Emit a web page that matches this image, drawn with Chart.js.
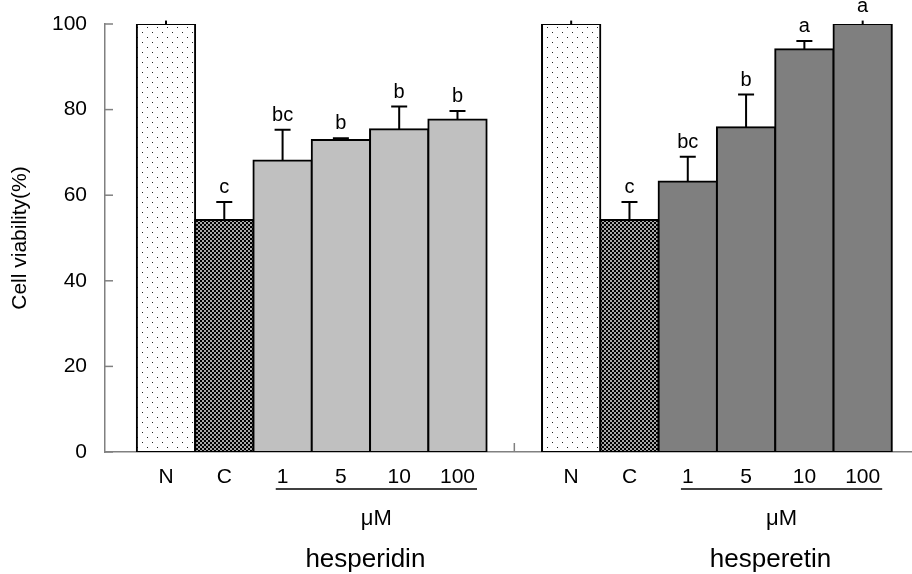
<!DOCTYPE html>
<html>
<head>
<meta charset="utf-8">
<script src="https://cdn.jsdelivr.net/npm/chart.js@4.4.0/dist/chart.umd.min.js"></script>
<style>
  html, body { margin: 0; padding: 0; background: #fff; }
  #wrap { width: 912px; height: 574px; }
</style>
</head>
<body>
<div id="wrap"><canvas id="myChart"></canvas></div>
<script>
// 데이터
const doseLabels = ['N', 'C', '1', '5', '10', '100'];
const groupNames = ['hesperidin', 'hesperetin'];
const unitLabel = 'μM';
const yTicks = [0, 20, 40, 60, 80, 100];

const hesperidinMean = [100, 54.2, 68.1, 72.9, 75.4, 77.7];
const hesperidinErr = [0.8, 4.2, 7.2, 0.4, 5.3, 2.0];
const hesperidinLetters = ['', 'c', 'bc', 'b', 'b', 'b'];

const hesperetinMean = [100, 54.2, 63.2, 75.9, 94.1, 100];
const hesperetinErr = [0.8, 4.2, 5.8, 7.6, 1.9, 0.8];
const hesperetinLetters = ['', 'c', 'bc', 'b', 'a', 'a'];

const GROUP_STRIDE = 6.95;   // 두 그룹 사이 간격 (막대 단위)
const FONT = "'Liberation Sans', Arial, sans-serif";

// 패턴 만들기
function makePattern(size, drawFn) {
    const c = document.createElement('canvas');
    c.width = size; c.height = size;
    const g = c.getContext('2d');
    drawFn(g);
    return g.createPattern(c, 'repeat');
}

const dotPattern = makePattern(10, g => {
    g.fillStyle = '#fff';
    g.fillRect(0, 0, 10, 10);
    g.fillStyle = '#222';
    g.fillRect(2, 2, 1, 1);
    g.fillRect(7, 7, 1, 1);
});

const checkPattern = makePattern(4, g => {
    g.fillStyle = '#a8a8a8';
    g.fillRect(0, 0, 4, 4);
    g.fillStyle = '#000';
    g.fillRect(0, 0, 2, 2);
    g.fillRect(2, 2, 2, 2);
});

const groups = [
    { mean: hesperidinMean, err: hesperidinErr, letters: hesperidinLetters, fill: '#c0c0c0' },
    { mean: hesperetinMean, err: hesperetinErr, letters: hesperetinLetters, fill: '#7f7f7f' }
];

const points = [];
const fills = [];
const errs = [];
const letters = [];
groups.forEach((g, gi) => {
    g.mean.forEach((v, i) => {
        points.push({ x: gi * GROUP_STRIDE + i, y: v });
        fills.push(i === 0 ? dotPattern : (i === 1 ? checkPattern : g.fill));
        errs.push(g.err[i]);
        letters.push(g.letters[i]);
    });
});

// 에러바, 문자, 축 표시 등
const annotations = {
    id: 'annotations',
    afterDatasetsDraw(chart) {
        const { ctx, chartArea, scales: { x, y } } = chart;
        ctx.save();

        // y축 안쪽 눈금
        ctx.strokeStyle = '#808080';
        ctx.lineWidth = 1.5;
        yTicks.forEach(t => {
            const py = y.getPixelForValue(t);
            ctx.beginPath();
            ctx.moveTo(chartArea.left, py);
            ctx.lineTo(chartArea.left + 8, py);
            ctx.stroke();
        });
        // 그룹 사이 눈금
        const gapX = x.getPixelForValue((doseLabels.length - 1 + GROUP_STRIDE) / 2);
        ctx.beginPath();
        ctx.moveTo(gapX, chartArea.bottom);
        ctx.lineTo(gapX, chartArea.bottom - 9);
        ctx.stroke();

        // 에러바 + 유의성 문자
        ctx.strokeStyle = '#000';
        ctx.fillStyle = '#000';
        ctx.lineWidth = 2;
        ctx.font = '20px ' + FONT;
        ctx.textAlign = 'center';
        ctx.textBaseline = 'alphabetic';
        points.forEach((p, i) => {
            const px = x.getPixelForValue(p.x);
            const top = p.y + errs[i];
            const y0 = y.getPixelForValue(p.y);
            const y1 = y.getPixelForValue(top);
            ctx.beginPath();
            ctx.moveTo(px, y0);
            ctx.lineTo(px, y1);
            if (top <= y.max) {
                ctx.moveTo(px - 8, y1);
                ctx.lineTo(px + 8, y1);
            }
            ctx.stroke();
            if (letters[i]) {
                ctx.fillText(letters[i], px, y1 - 9);
            }
        });

        // 농도 밑줄, 단위, 그룹 이름
        groupNames.forEach((name, gi) => {
            ctx.font = '21px ' + FONT;
            const first = doseLabels[2];
            const last = doseLabels[doseLabels.length - 1];
            const left = x.getPixelForValue(gi * GROUP_STRIDE + 2) - ctx.measureText(first).width / 2 - 1;
            const right = x.getPixelForValue(gi * GROUP_STRIDE + doseLabels.length - 1) + ctx.measureText(last).width / 2 + 2;
            ctx.lineWidth = 1.5;
            ctx.beginPath();
            ctx.moveTo(left, 489);
            ctx.lineTo(right, 489);
            ctx.stroke();

            const mid = (left + right) / 2;
            ctx.font = '22px ' + FONT;
            ctx.fillText(unitLabel, mid, 525);
            ctx.font = '26px ' + FONT;
            ctx.fillText(name, mid - 11, 567);
        });

        ctx.restore();
    }
};

Chart.defaults.font.family = FONT;
Chart.defaults.color = '#000';

const ctx = document.getElementById('myChart').getContext('2d');
const myChart = new Chart(ctx, {
    type: 'bar',
    data: {
        datasets: [{
            data: points,
            backgroundColor: fills,
            borderColor: '#000',
            borderWidth: 2,
            borderSkipped: false,
            inflateAmount: 1,
            categoryPercentage: 1,
            barPercentage: 1
        }]
    },
    options: {
        responsive: true,
        maintainAspectRatio: false,
        animation: false,
        layout: { padding: { top: 24, right: 0, bottom: 0, left: 0 } },
        plugins: {
            legend: { display: false },
            tooltip: { enabled: false }
        },
        scales: {
            x: {
                type: 'linear',
                min: -1.046,
                max: 12.796,
                offset: false,
                grid: { display: false, drawTicks: false },
                border: { display: true, color: '#808080', width: 1.5 },
                afterBuildTicks: scale => {
                    scale.ticks = points.map(p => ({ value: p.x }));
                },
                afterFit: scale => { scale.height = 122; },
                ticks: {
                    autoSkip: false,
                    maxRotation: 0,
                    padding: 13,
                    font: { size: 21 },
                    callback: (v, i) => doseLabels[i % doseLabels.length]
                }
            },
            y: {
                min: 0,
                max: 100,
                grid: { display: false, drawTicks: true, tickLength: 18, tickColor: 'rgba(0,0,0,0)' },
                border: { display: true, color: '#808080', width: 1.5 },
                afterBuildTicks: scale => {
                    scale.ticks = yTicks.map(v => ({ value: v }));
                },
                afterFit: scale => { scale.width = 105; },
                ticks: {
                    padding: 0,
                    font: { size: 21 }
                },
                title: {
                    display: true,
                    text: 'Cell viability(%)',
                    font: { size: 21 },
                    padding: { top: 8, bottom: 0 }
                }
            }
        }
    },
    plugins: [annotations]
});
</script>
</body>
</html>
